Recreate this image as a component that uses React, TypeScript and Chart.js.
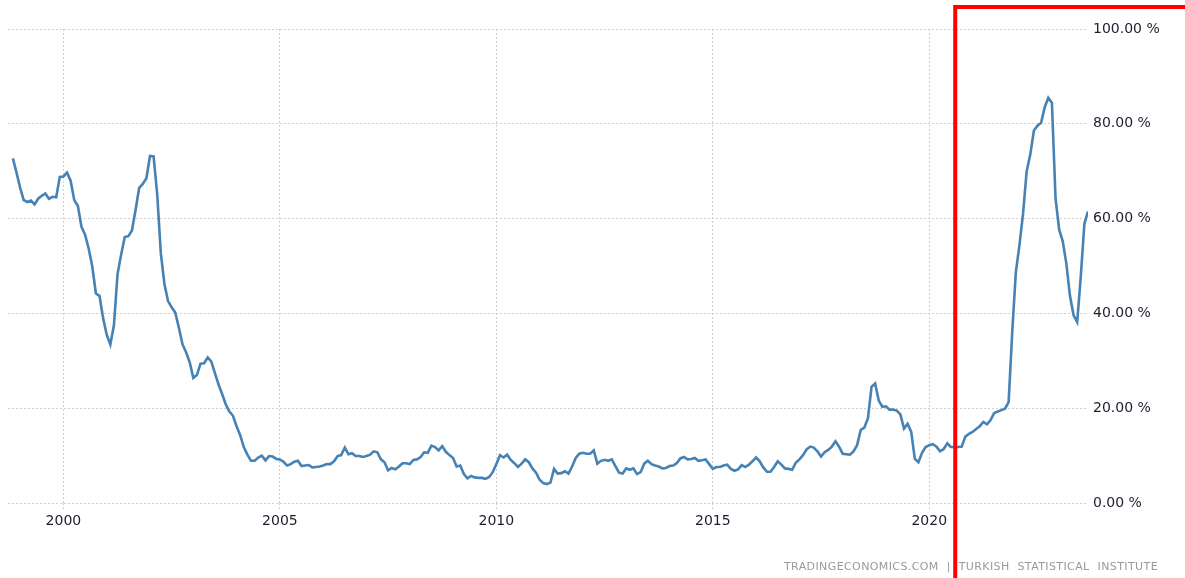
import React, { useEffect, useRef } from "react";
import { Chart, registerables } from "chart.js";

Chart.register(...registerables);

// Turkey inflation rate (annual % change), monthly, from Nov 1998 to Sep 2023
const firstYear = 1998;
const firstMonth = 11;
const inflation: number[] = [
  // 1998 Nov-Dec
  72.7, 69.7,
  // 1999
  66.5, 63.9, 63.5, 63.8, 63.0, 64.2, 64.8, 65.3, 64.2, 64.6, 64.5, 68.8,
  // 2000
  68.9, 69.7, 68.0, 63.9, 62.7, 58.3, 56.6, 53.7, 49.9, 44.2, 43.7, 39.0,
  // 2001
  35.5, 33.4, 37.5, 48.3, 52.4, 56.1, 56.3, 57.5, 61.8, 66.5, 67.3, 68.5,
  // 2002
  73.2, 73.1, 65.1, 52.7, 46.2, 42.6, 41.3, 40.2, 37.0, 33.5, 31.8, 29.7,
  // 2003
  26.4, 27.0, 29.4, 29.5, 30.7, 29.8, 27.4, 25.0, 23.0, 20.8, 19.3, 18.4,
  // 2004
  16.2, 14.3, 11.8, 10.2, 8.9, 8.9, 9.6, 10.0, 9.0, 9.9, 9.8, 9.3,
  // 2005
  9.2, 8.7, 7.9, 8.2, 8.7, 8.9, 7.8, 7.9, 8.0, 7.5, 7.6, 7.7,
  // 2006
  7.9, 8.2, 8.2, 8.8, 9.9, 10.1, 11.7, 10.3, 10.5, 9.9, 9.9, 9.7,
  // 2007
  9.9, 10.2, 10.9, 10.7, 9.2, 8.6, 6.9, 7.4, 7.1, 7.7, 8.4, 8.4,
  // 2008
  8.2, 9.1, 9.2, 9.7, 10.7, 10.6, 12.1, 11.8, 11.1, 12.0, 10.8, 10.1,
  // 2009
  9.5, 7.7, 7.9, 6.1, 5.2, 5.7, 5.4, 5.3, 5.3, 5.1, 5.5, 6.5,
  // 2010
  8.2, 10.1, 9.6, 10.2, 9.1, 8.4, 7.6, 8.3, 9.2, 8.6, 7.3, 6.4,
  // 2011
  4.9, 4.2, 4.0, 4.3, 7.2, 6.2, 6.3, 6.7, 6.2, 7.7, 9.5, 10.4,
  // 2012
  10.6, 10.4, 10.4, 11.1, 8.3, 8.9, 9.1, 8.9, 9.2, 7.8, 6.4, 6.2,
  // 2013
  7.3, 7.0, 7.3, 6.1, 6.5, 8.3, 8.9, 8.2, 7.9, 7.7, 7.3, 7.4,
  // 2014
  7.8, 7.9, 8.4, 9.4, 9.7, 9.2, 9.3, 9.5, 8.9, 9.0, 9.2, 8.2,
  // 2015
  7.2, 7.6, 7.6, 7.9, 8.1, 7.2, 6.8, 7.1, 8.0, 7.6, 8.1, 8.8,
  // 2016
  9.6, 8.8, 7.5, 6.6, 6.6, 7.6, 8.8, 8.1, 7.3, 7.2, 7.0, 8.5,
  // 2017
  9.2, 10.1, 11.3, 11.9, 11.7, 10.9, 9.8, 10.7, 11.2, 11.9, 13.0, 11.9,
  // 2018
  10.4, 10.3, 10.2, 10.9, 12.2, 15.4, 15.9, 17.9, 24.5, 25.2, 21.6, 20.3,
  // 2019
  20.4, 19.7, 19.7, 19.5, 18.7, 15.7, 16.7, 15.0, 9.3, 8.6, 10.6, 11.8,
  // 2020
  12.2, 12.4, 11.9, 10.9, 11.4, 12.6, 11.8, 11.8, 11.8, 11.9, 14.0, 14.6,
  // 2021
  15.0, 15.6, 16.2, 17.1, 16.6, 17.5, 19.0, 19.3, 19.6, 19.9, 21.3, 36.1,
  // 2022
  48.7, 54.4, 61.1, 70.0, 73.5, 78.6, 79.6, 80.2, 83.5, 85.5, 84.4, 64.3,
  // 2023 Jan-Sep
  57.7, 55.2, 50.5, 43.7, 39.6, 38.2, 47.8, 58.9, 61.5,
];

const xTickYears = [2000, 2005, 2010, 2015, 2020];
const yTickValues = [0, 20, 40, 60, 80, 100];
const xAxisStart = 1998.72;
const highlightFrom = 2020.6;
const sourceLeft = "TRADINGECONOMICS.COM";
const sourceRight = "TURKISH STATISTICAL INSTITUTE";

const FONT = "'DejaVu Sans', Verdana, sans-serif";

const highlightPlugin = {
  id: "highlightFrame",
  afterDraw(chart: any) {
    const ctx = chart.ctx;
    const x = chart.scales.x.getPixelForValue(highlightFrom);
    ctx.save();
    ctx.strokeStyle = "#ff0000";
    ctx.lineWidth = 4;
    ctx.strokeRect(x, 7, 1000, 1000);
    ctx.restore();
  },
};

export default function App() {
  const canvasRef = useRef<HTMLCanvasElement | null>(null);

  useEffect(() => {
    if (!canvasRef.current) return;
    const points = inflation.map((v, i) => ({
      x: firstYear + (firstMonth - 1 + i) / 12,
      y: v,
    }));
    const xEnd = points[points.length - 1].x;

    const chart = new Chart(canvasRef.current, {
      type: "line",
      data: {
        datasets: [
          {
            label: "Inflation Rate",
            data: points,
            borderColor: "#4682b4",
            borderWidth: 2.6,
            pointRadius: 0,
            fill: false,
            tension: 0,
          },
        ],
      },
      options: {
        animation: false,
        responsive: false,
        layout: { padding: { left: 8, top: 29, right: 0, bottom: 0 } },
        plugins: {
          legend: { display: false },
          tooltip: { enabled: false },
        },
        scales: {
          x: {
            type: "linear",
            min: xAxisStart,
            max: xEnd,
            afterBuildTicks: (axis: any) => {
              axis.ticks = xTickYears.map((v) => ({ value: v }));
            },
            afterFit: (scale: any) => {
              scale.height = 75;
            },
            ticks: {
              callback: (v: any) => String(v),
              color: "#1e1e2e",
              font: { family: FONT, size: 14 },
              padding: 3,
              maxRotation: 0,
              autoSkip: false,
            },
            grid: {
              color: "#d0d0d0",
              lineWidth: 1,
              drawTicks: true,
              tickLength: 7,
              tickBorderDash: [2, 2],
            },
            border: { display: false, dash: [2, 2] },
          },
          y: {
            type: "linear",
            position: "right",
            min: 0,
            max: 100,
            afterBuildTicks: (axis: any) => {
              axis.ticks = yTickValues.map((v) => ({ value: v }));
            },
            afterFit: (scale: any) => {
              scale.width = 97;
            },
            ticks: {
              callback: (v: any) => Number(v).toFixed(2) + " %",
              color: "#1e1e2e",
              font: { family: FONT, size: 14 },
              padding: 5,
            },
            grid: {
              color: "#d0d0d0",
              lineWidth: 1,
              drawTicks: false,
            },
            border: { display: false, dash: [2, 2] },
          },
        },
      },
      plugins: [highlightPlugin],
    });

    return () => {
      chart.destroy();
    };
  }, []);

  return (
    <div
      style={{
        position: "absolute",
        left: 0,
        top: 0,
        width: 1185,
        height: 578,
        overflow: "hidden",
        background: "#ffffff",
      }}
    >
      <canvas ref={canvasRef} width={1185} height={578} style={{ display: "block" }} />
      <div
        style={{
          position: "absolute",
          right: 27,
          top: 560,
          fontFamily: FONT,
          fontSize: 11,
          color: "#9a9a9a",
          letterSpacing: "0.4px",
          wordSpacing: "4px",
          whiteSpace: "pre",
        }}
      >
        {sourceLeft + " | " + sourceRight}
      </div>
    </div>
  );
}
